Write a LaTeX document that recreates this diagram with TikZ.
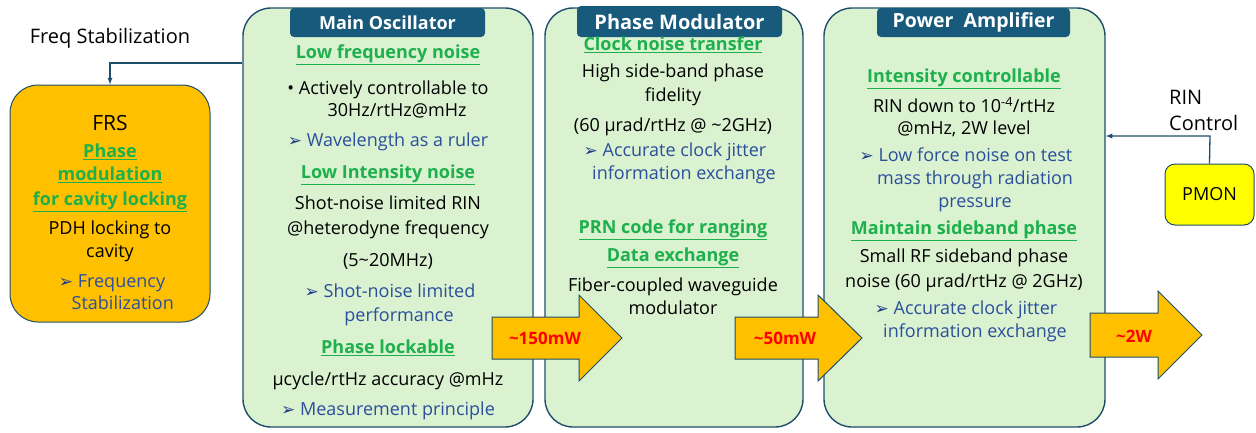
\documentclass[tikz,border=0pt]{standalone}
\usepackage{fontspec}
\setmainfont{Open Sans}
\newfontfamily\symfont{DejaVu Sans}
\usepackage{tikz}
\usetikzlibrary{arrows}
\definecolor{boxfill}{HTML}{DAF2D0}
\definecolor{boxline}{HTML}{1F4E6B}
\definecolor{tabfill}{HTML}{185A7C}
\definecolor{headgreen}{HTML}{1DB04C}
\definecolor{noteblue}{HTML}{2A4F9C}
\definecolor{bulblue}{HTML}{1F3C8A}
\definecolor{frsorange}{HTML}{FFC000}
\definecolor{pmonyellow}{HTML}{FFFF00}
\newcommand{\hd}[1]{\textcolor{headgreen}{\bfseries\underline{#1}}}
\newcommand{\arrbul}{{\symfont\fontsize{17}{17}\selectfont\textcolor{bulblue}{➢}}\ }

\begin{document}
\begin{tikzpicture}[x=1pt,y=-1pt,
  box/.style={draw=boxline,fill=boxfill,line width=1.4pt,rounded corners=28pt,inner sep=0pt},
  tab/.style={fill=tabfill,rounded corners=4pt,inner sep=0pt,text=white,font=\bfseries\fontsize{18}{20}\selectfont},
  txt/.style={align=center,inner sep=0pt,font=\fontsize{18}{23}\selectfont},
  note/.style={txt,text=noteblue},
  conn/.style={-latex,draw=boxline,line width=1.3pt},
  bigarrow/.style={draw=boxline,fill=frsorange,line width=1pt,line join=miter},
  power/.style={text=red,inner sep=0pt,font=\bfseries\fontsize{17}{18}\selectfont}]

\useasboundingbox (0,0) rectangle (1256,432);

% boxes
\node (FRS) at (110,203.5)[box,fill=frsorange,line width=1pt,minimum width=200pt,minimum height=237pt] {};
\node (MO) at (388,217.5)[box,minimum width=290pt,minimum height=419pt] {};
\node (PM) at (674,217.5)[box,minimum width=258pt,minimum height=419pt] {};
\node (PA) at (964.5,217.5)[box,minimum width=281pt,minimum height=419pt] {};
\node (PMON) at (1209.5,194.5)[draw=boxline,fill=pmonyellow,line width=1pt,rounded corners=10pt,minimum width=89pt,minimum height=61pt,font=\fontsize{18}{18}\selectfont] {PMON};

% title tabs
\node (MOtab) at (387.5,22.5)[tab,minimum width=195pt,minimum height=29pt] {Main Oscillator};
\node (PMtab) at (679.5,21.5)[tab,minimum width=205pt,minimum height=31pt,font=\bfseries\fontsize{20}{20}\selectfont] {Phase Modulator};
\node (PAtab) at (973.5,22.5)[tab,minimum width=193pt,minimum height=29pt,font=\bfseries\fontsize{19.5}{20}\selectfont] {Power~~Amplifier};

% side labels
\node (fstext) at (110,38)[txt,font=\fontsize{20}{20}\selectfont] {Freq Stabilization};
\node (rintext) at (1169,110)[txt,anchor=west,align=left,font=\fontsize{20}{26}\selectfont] {RIN\\Control};

% FRS
\node (frs1) at (110,123)[txt,font=\fontsize{21}{23}\selectfont] {FRS};
\node (frs2) at (110,163.5)[txt] {\hd{Phase}\\\hd{modulation}};
\node (frs3) at (110,202)[txt] {\hd{for cavity locking}};
\node (frs4) at (110,241.5)[txt] {PDH locking to\\cavity};
\node (frs5) at (112,292.5)[note,font=\fontsize{18}{22}\selectfont] {\arrbul Frequency\\\hspace*{1.2em}Stabilization};

% main oscillator
\node (mo1) at (388,55)[txt] {\hd{Low frequency noise}};
\node (mo2) at (388,99)[txt,font=\fontsize{18}{22}\selectfont] {\textbullet\ Actively controllable to\\\hspace*{1em}30Hz/rtHz@mHz};
\node (mo3) at (388,142)[note] {\arrbul Wavelength as a ruler};
\node (mo4) at (388,175)[txt] {\hd{Low Intensity noise}};
\node (mo5) at (388,217.5)[txt,font=\fontsize{18}{25}\selectfont] {Shot-noise limited RIN\\@heterodyne frequency};
\node (mo6) at (388,261)[txt] {(5\textasciitilde20MHz)};
\node (mo7) at (390,305)[note,font=\fontsize{18}{24}\selectfont] {\arrbul Shot-noise limited\\\hspace*{1em}performance};
\node (mo8) at (388,348)[txt] {\hd{Phase lockable}};
\node (mo9) at (388,381)[txt] {µcycle/rtHz accuracy @mHz};
\node (mo10) at (388,411)[note] {\arrbul Measurement principle};

% phase modulator
\node (pm1) at (673,45)[txt] {\hd{Clock noise transfer}};
\node (pm2) at (673,85)[txt,font=\fontsize{18}{24}\selectfont] {High side-band phase\\fidelity};
\node (pm3) at (673,127)[txt] {(60 µrad/rtHz @ \textasciitilde2GHz)};
\node (pm4) at (675,163)[note,font=\fontsize{18}{23}\selectfont] {\arrbul Accurate clock jitter\\\hspace*{1em}information exchange};
\node (pm5) at (673,230)[txt] {\hd{PRN code for ranging}};
\node (pm6) at (673,258)[txt] {\hd{Data exchange}};
\node (pm7) at (673,296.5)[txt] {Fiber-coupled waveguide\\modulator};

% power amplifier
\node (pa1) at (964,79)[txt] {\hd{Intensity controllable}};
\node (pa2) at (964,117)[txt,font=\fontsize{18}{22}\selectfont] {RIN down to 10\textsuperscript{-4}/rtHz\\@mHz, 2W level};
\node (pa3) at (966,180)[note] {\arrbul Low force noise on test\\\hspace*{1em}mass through radiation\\\hspace*{1em}pressure};
\node (pa4) at (964,231)[txt] {\hd{Maintain sideband phase}};
\node (pa5) at (964,270.5)[txt,font=\fontsize{18}{25}\selectfont] {Small RF sideband phase\\noise (60 µrad/rtHz @ 2GHz)};
\node (pa6) at (966,321.5)[note] {\arrbul Accurate clock jitter\\\hspace*{1em}information exchange};

% power arrows
\draw[bigarrow] (492,317) -- (579,317) -- (579,295) -- (622,338) -- (579,381) -- (579,359) -- (492,359) -- cycle;
\draw[bigarrow] (735,317) -- (818,317) -- (818,295) -- (862,338) -- (818,381) -- (818,359) -- (735,359) -- cycle;
\draw[bigarrow] (1090,313) -- (1158,313) -- (1158,291) -- (1202,335) -- (1158,379) -- (1158,357) -- (1090,357) -- cycle;
\node (p150) at (545,338)[power] {\textasciitilde150mW};
\node (p50) at (785,338)[power] {\textasciitilde50mW};
\node (p2) at (1134,336)[power] {\textasciitilde2W};

% control lines
\coordinate (fsbend) at (110,63);
\coordinate (rinbend) at (1210,136);
\draw[conn] (MO.west |- fsbend) -- (fsbend) -- (FRS);
\draw[conn] (PMON.north) -- (rinbend) -- (PA.east |- rinbend);
\end{tikzpicture}
\end{document}
